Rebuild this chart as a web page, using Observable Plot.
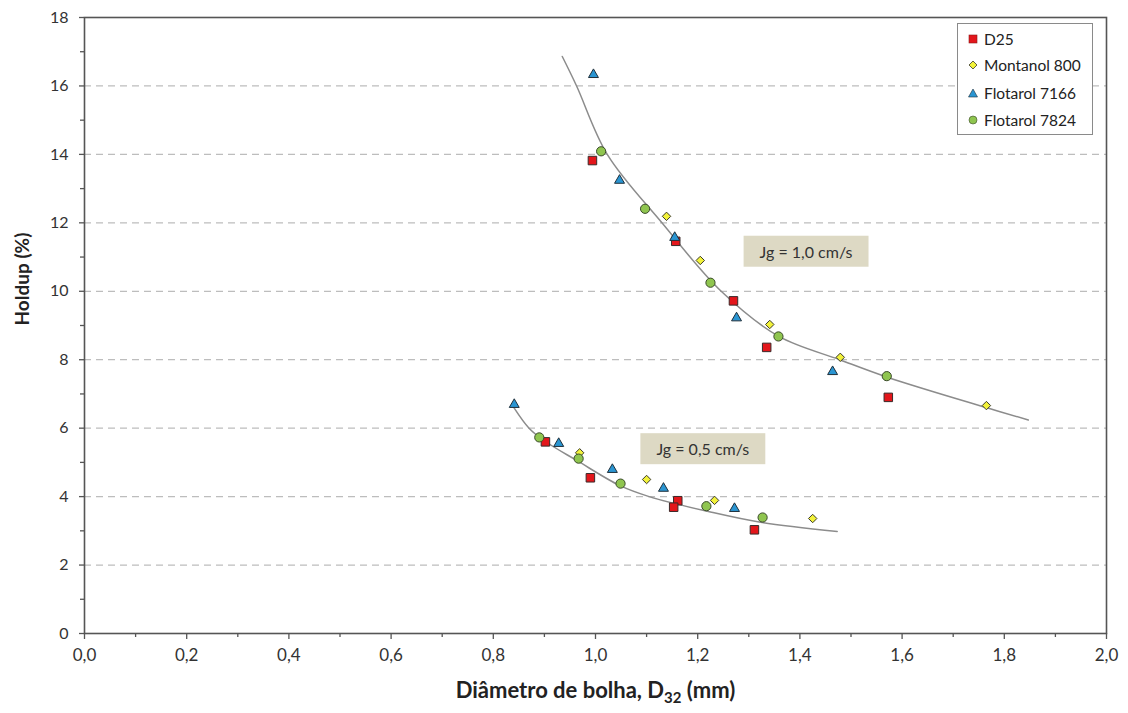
<!DOCTYPE html>
<html>
<head>
<meta charset="utf-8">
<script src="https://cdn.jsdelivr.net/npm/d3@7"></script>
<script src="https://cdn.jsdelivr.net/npm/@observablehq/plot@0.6"></script>
<style>
  html, body { margin: 0; padding: 0; background: #fff; }
  #wrap { position: relative; width: 1128px; height: 713px; font-family: Lato, "Open Sans", sans-serif; }
  #legend { position: absolute; left: 957px; top: 23px; width: 136px; height: 112px; border: 1px solid #8a8a8a; background: #fff; box-sizing: border-box; }
  .lrow { position: absolute; left: 8px; height: 20px; display: flex; align-items: center; font-size: 15.5px; color: #222; }
  .lrow svg { margin-right: 4px; }
</style>
</head>
<body>
<div id="wrap"></div>
<script>
// ---- data ----
const d25X = [0.994, 1.157, 1.270, 1.335, 1.573, 0.902, 0.990, 1.161, 1.153, 1.311];
const d25Y = [13.82, 11.46, 9.72, 8.36, 6.90, 5.60, 4.55, 3.88, 3.69, 3.03];

const montanolX = [1.139, 1.205, 1.341, 1.479, 1.765, 0.969, 1.100, 1.233, 1.425];
const montanolY = [12.19, 10.90, 9.03, 8.07, 6.66, 5.28, 4.50, 3.89, 3.36];

const flo7166X = [0.996, 1.047, 1.155, 1.276, 1.464, 0.841, 0.928, 1.033, 1.133, 1.272];
const flo7166Y = [16.33, 13.24, 11.57, 9.22, 7.65, 6.69, 5.55, 4.79, 4.24, 3.65];

const flo7824X = [1.011, 1.097, 1.225, 1.358, 1.570, 0.890, 0.967, 1.049, 1.217, 1.327];
const flo7824Y = [14.09, 12.41, 10.25, 8.68, 7.52, 5.73, 5.11, 4.38, 3.72, 3.39];

// trend curves (Jg = 1,0 and Jg = 0,5 cm/s)
const trend10X = [0.935, 0.963, 1.023, 1.130, 1.246, 1.359, 1.478, 1.571, 1.763, 1.847];
const trend10Y = [16.86, 16.0, 14.0, 12.0, 10.0, 8.68, 8.0, 7.49, 6.61, 6.24];
const trend05X = [0.840, 0.870, 0.899, 0.964, 1.048, 1.105, 1.225, 1.323, 1.473];
const trend05Y = [6.61, 6.0, 5.64, 5.05, 4.32, 4.0, 3.55, 3.25, 2.98];

const annLabels = ["Jg = 1,0 cm/s", "Jg = 0,5 cm/s"];
const annX = [1.412, 1.210];
const annY = [11.13, 5.36];

const xTicks = [0, 0.2, 0.4, 0.6, 0.8, 1.0, 1.2, 1.4, 1.6, 1.8, 2.0];
const xMinor = [0.1, 0.3, 0.5, 0.7, 0.9, 1.1, 1.3, 1.5, 1.7, 1.9];
const yTicks = [0, 2, 4, 6, 8, 10, 12, 14, 16, 18];
const yMinor = [1, 3, 5, 7, 9, 11, 13, 15, 17];
const yGrid = [2, 4, 6, 8, 10, 12, 14, 16];

const xTitle = "Diâmetro de bolha, D32 (mm)";
const yTitle = "Holdup (%)";

// ---- series table ----
const series = [
  {name: "D25", x: d25X, y: d25Y, symbol: "square", fill: "#e3161b", stroke: "#3a2a2a", r: 4.8},
  {name: "Montanol 800", x: montanolX, y: montanolY, symbol: "diamond2", fill: "#f2f23a", stroke: "#3a3a2a", r: 3.8},
  {name: "Flotarol 7166", x: flo7166X, y: flo7166Y, symbol: "triangle", fill: "#2a95d2", stroke: "#1f2f3a", r: 3.7},
  {name: "Flotarol 7824", x: flo7824X, y: flo7824Y, symbol: "circle", fill: "#8fc54f", stroke: "#3a4a2a", r: 4.6}
];
const toPts = (xs, ys) => xs.map((x, i) => ({x, y: ys[i]}));
const trends = [toPts(trend10X, trend10Y), toPts(trend05X, trend05Y)];
const annotations = annLabels.map((t, i) => ({text: t, x: annX[i], y: annY[i]}));

const fmt = d => d.toFixed(1).replace(".", ",");

const plot = Plot.plot({
  width: 1128,
  height: 713,
  marginLeft: 84,
  marginRight: 22,
  marginTop: 17,
  marginBottom: 80,
  x: {domain: [0, 2]},
  y: {domain: [0, 18]},
  style: {fontFamily: "Lato, 'Open Sans', sans-serif", fontSize: "15px", color: "#333", background: "white"},
  marks: [
    Plot.gridY(yGrid, {stroke: "#bdbdbd", strokeOpacity: 1, strokeWidth: 1.3, strokeDasharray: "7,5"}),
    Plot.frame({stroke: "#555", strokeWidth: 1.6}),
    Plot.axisY(yTicks, {tickSize: 5, tickPadding: 11, tickFormat: d => String(d), label: null, stroke: "#555", strokeWidth: 1.3, fill: "#333", fontSize: 16}),
    Plot.axisY(yMinor, {tickSize: 4, tickFormat: () => "", label: null, stroke: "#555", strokeWidth: 1.3}),
    Plot.axisX(xTicks, {tickSize: 6, tickPadding: 9, tickFormat: fmt, label: null, stroke: "#555", strokeWidth: 1.3, fill: "#333", fontSize: 17}),
    Plot.axisX(xMinor, {tickSize: 4, tickFormat: () => "", label: null, stroke: "#555", strokeWidth: 1.3}),
    ...trends.map(t => Plot.line(t, {x: "x", y: "y", curve: "catmull-rom", stroke: "#8c8c8c", strokeWidth: 1.5})),
    ...series.map(s => Plot.dot(toPts(s.x, s.y), {x: "x", y: "y", symbol: () => s.symbol, r: s.r, fill: s.fill, stroke: s.stroke, strokeWidth: 1})),
    Plot.text(annotations, {x: "x", y: "y", text: "text", fontSize: 16, fill: "#333", className: "ann"}),
    Plot.text([xTitle], {frameAnchor: "bottom", dy: 64, text: d => d, fontSize: 22, fontWeight: "bold", fill: "#222", className: "xtitle"}),
    Plot.text([yTitle], {frameAnchor: "left", dx: -62, rotate: -90, text: d => d, fontSize: 19, fontWeight: "bold", fill: "#222"})
  ]
});

const wrap = document.getElementById("wrap");
wrap.appendChild(plot);

// subscript in x title
d3.select(plot).selectAll(".xtitle text").each(function() {
  const t = d3.select(this);
  t.text(null);
  t.append("tspan").text("Diâmetro de bolha, D");
  t.append("tspan").attr("dy", 5).attr("font-size", 15).text("32");
  t.append("tspan").attr("dy", -5).text(" (mm)");
});

// boxes behind annotation labels (same transform/position as the text)
d3.select(plot).selectAll(".ann text").each(function() {
  const b = this.getBBox();
  const padX = 16, padY = 6;
  const r = d3.select(this.parentNode).insert("rect", () => this)
    .attr("x", b.x - padX).attr("y", b.y - padY)
    .attr("width", b.width + 2 * padX).attr("height", b.height + 2 * padY)
    .attr("fill", "#ddd9c4");
  const tr = this.getAttribute("transform");
  if (tr) r.attr("transform", tr);
});

// legend
const legend = document.createElement("div");
legend.id = "legend";
const rowTops = [5, 31, 59, 86];
const markerSvg = {
  square: '<rect x="3" y="3" width="8" height="8" fill="#e3161b" stroke="#8a1a1a" stroke-width="0.6"/>',
  diamond2: '<path d="M7,3 L11,7 L7,11 L3,7 Z" fill="#f2f23a" stroke="#3a3a2a" stroke-width="0.8"/>',
  triangle: '<path d="M7,3 L11.5,11 L2.5,11 Z" fill="#2a95d2" stroke="#1f2f3a" stroke-width="0.6"/>',
  circle: '<circle cx="7" cy="7" r="4" fill="#8fc54f" stroke="#3a4a2a" stroke-width="0.6"/>'
};
series.forEach((s, i) => {
  const row = document.createElement("div");
  row.className = "lrow";
  row.style.top = rowTops[i] + "px";
  row.innerHTML = `<svg width="14" height="14">${markerSvg[s.symbol]}</svg><span>${s.name}</span>`;
  legend.appendChild(row);
});
wrap.appendChild(legend);
</script>
</body>
</html>
